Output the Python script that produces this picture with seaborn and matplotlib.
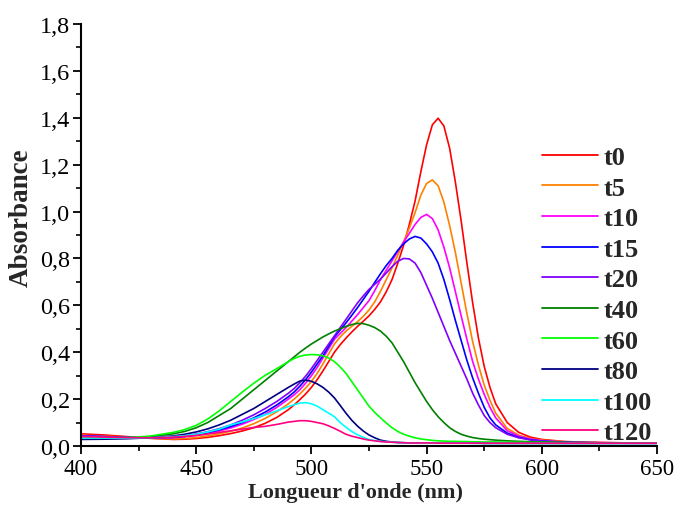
import matplotlib
matplotlib.use("Agg")
import matplotlib.pyplot as plt
from matplotlib.ticker import MultipleLocator, FuncFormatter
from matplotlib.lines import Line2D
import seaborn as sns
import pandas as pd

wavelength = [400, 410, 420, 430, 440, 445, 450, 455, 460, 465, 470, 475, 480, 485,
              490, 492.5, 495, 497.5, 500, 502.5, 505, 507.5, 510, 512.5, 515, 517.5,
              520, 522.5, 525, 527.5, 530, 532.5, 535, 537.5, 540, 542.5, 545, 547.5,
              550, 552.5, 555, 557.5, 560, 562.5, 565, 567.5, 570, 572.5, 575, 577.5, 580,
              585, 590, 595, 600, 610, 620, 630, 640, 650]

t0 = [.052, .047, .040, .033, .028, .029, .032, .037, .044, .053, .064, .078, .097, .122,
      .155, .175, .198, .222, .25, .283, .32, .36, .40, .432, .46, .486,
      .51, .532, .555, .583, .615, .658, .71, .78, .855, .945, 1.045, 1.17,
      1.285, 1.37, 1.398, 1.365, 1.27, 1.125, .96, .78, .61, .46, .34, .25, .18,
      .10, .058, .038, .028, .019, .016, .014, .013, .012]
t5 = [.046, .042, .038, .033, .030, .032, .036, .043, .052, .063, .077, .095, .118, .146,
      .180, .20, .222, .247, .275, .31, .35, .393, .435, .465, .49, .51,
      .53, .553, .58, .615, .66, .71, .76, .815, .87, .93, .995, 1.07,
      1.12, 1.135, 1.11, 1.04, .94, .825, .695, .565, .445, .345, .26, .195, .14,
      .075, .046, .032, .025, .018, .015, .014, .013, .012]
t10 = [.042, .039, .036, .034, .035, .039, .045, .053, .064, .077, .093, .113, .135, .165,
       .20, .218, .24, .268, .30, .335, .375, .415, .455, .48, .505, .532,
       .56, .59, .62, .663, .71, .75, .79, .83, .87, .907, .945, .975,
       .988, .97, .922, .848, .76, .658, .555, .455, .36, .285, .22, .165, .12,
       .065, .042, .030, .023, .017, .015, .014, .013, .012]
t15 = [.043, .040, .037, .036, .037, .041, .048, .057, .069, .083, .10, .12, .145, .175,
       .21, .23, .255, .283, .315, .35, .385, .425, .465, .495, .525, .557,
       .59, .625, .66, .698, .735, .77, .80, .835, .862, .883, .894, .887,
       .862, .828, .78, .71, .625, .535, .45, .365, .29, .225, .165, .12, .09,
       .055, .037, .027, .021, .016, .014, .013, .012, .012]
t20 = [.044, .040, .037, .036, .038, .043, .051, .061, .074, .09, .11, .133, .16, .19,
       .225, .245, .27, .298, .33, .365, .40, .435, .47, .505, .54, .575,
       .61, .64, .668, .69, .712, .738, .765, .788, .80, .798, .78, .74,
       .685, .63, .57, .51, .45, .395, .34, .285, .225, .175, .13, .10, .078,
       .05, .035, .026, .020, .016, .014, .013, .012, .012]
t40 = [.035, .035, .036, .040, .052, .062, .078, .10, .13, .16, .20, .24, .28, .32,
       .36, .38, .40, .418, .435, .45, .465, .478, .49, .50, .51, .518,
       .523, .522, .515, .505, .49, .468, .44, .40, .36, .315, .27, .23,
       .19, .155, .125, .10, .078, .062, .05, .042, .036, .032, .029, .027, .025,
       .022, .020, .018, .017, .015, .014, .013, .013, .013]
t60 = [.035, .035, .036, .042, .058, .07, .088, .115, .15, .19, .23, .268, .302, .33,
       .36, .373, .383, .388, .39, .389, .385, .375, .36, .337, .31, .275,
       .24, .205, .17, .143, .12, .098, .078, .062, .05, .042, .035, .03,
       .027, .024, .022, .021, .020, .020, .019, .019, .018, .018, .017, .017, .017,
       .016, .016, .015, .015, .014, .014, .013, .013, .013]
t80 = [.028, .029, .031, .035, .043, .050, .060, .073, .090, .11, .135, .16, .19, .22,
       .25, .264, .277, .281, .276, .265, .25, .23, .205, .173, .14, .11,
       .085, .064, .047, .035, .025, .020, .017, .015, .014, .013, .012, .012,
       .012, .012, .012, .012, .012, .012, .012, .012, .012, .012, .011, .011, .011,
       .011, .011, .011, .011, .011, .011, .011, .011, .011]
t100 = [.034, .034, .034, .035, .040, .044, .050, .060, .072, .09, .103, .117, .133, .15,
        .168, .176, .183, .185, .18, .17, .155, .14, .125, .10, .08, .062,
        .048, .037, .028, .023, .020, .018, .016, .015, .014, .013, .013, .012,
        .012, .012, .012, .012, .012, .012, .012, .012, .011, .011, .011, .011, .011,
        .011, .011, .011, .011, .011, .011, .011, .011, .011]
t120 = [.040, .038, .036, .035, .038, .041, .045, .051, .058, .065, .072, .079, .084, .092,
        .102, .105, .108, .108, .105, .10, .095, .086, .075, .063, .05, .042,
        .036, .030, .025, .022, .019, .017, .016, .015, .014, .013, .013, .013,
        .013, .013, .012, .012, .012, .012, .012, .012, .012, .012, .012, .012, .012,
        .012, .012, .012, .012, .012, .012, .012, .012, .012]

labels = ["t0", "t5", "t10", "t15", "t20", "t40", "t60", "t80", "t100", "t120"]
series = [t0, t5, t10, t15, t20, t40, t60, t80, t100, t120]
colors = ["#FF0000", "#FF8000", "#FF00FF", "#0000FF", "#8000FF",
          "#008000", "#00FF00", "#000080", "#00FFFF", "#FF0080"]

rows = []
for lab, vals in zip(labels, series):
    assert len(vals) == len(wavelength), (lab, len(vals))
    for w, v in zip(wavelength, vals):
        rows.append({"wl": w, "A": v, "t": lab})
df = pd.DataFrame(rows)

sns.set_style("ticks")
plt.rcParams["font.family"] = ["Liberation Serif", "DejaVu Serif"]

fig = plt.figure(figsize=(6.77, 5.06), dpi=100)
ax = fig.add_axes([81 / 677, 59 / 506, 576 / 677, 422 / 506])

sns.lineplot(data=df, x="wl", y="A", hue="t", hue_order=labels,
             palette=dict(zip(labels, colors)), estimator=None, sort=False,
             linewidth=1.2, legend=False, ax=ax)

ax.set_xlim(400, 650)
ax.set_ylim(0, 1.8)
ax.xaxis.set_major_locator(MultipleLocator(50))
ax.xaxis.set_minor_locator(MultipleLocator(25))
ax.yaxis.set_major_locator(MultipleLocator(0.2))
ax.yaxis.set_minor_locator(MultipleLocator(0.1))
ax.yaxis.set_major_formatter(FuncFormatter(lambda v, p: f"{v:.1f}".replace(".", ",")))
ax.xaxis.set_major_formatter(FuncFormatter(lambda v, p: f"{int(round(v))}"))

for s in ["top", "right"]:
    ax.spines[s].set_visible(False)
for s in ["left", "bottom"]:
    ax.spines[s].set_linewidth(1.5)
    ax.spines[s].set_color("black")

ax.tick_params(axis="x", which="major", direction="out", length=6, width=1.3,
               labelsize=16.5, colors="black", pad=3)
ax.tick_params(axis="y", which="major", direction="out", length=6, width=1.3,
               labelsize=17.5, colors="black", pad=2)
ax.tick_params(axis="both", which="minor", direction="out", length=3.5, width=1.2, colors="black")

ax.set_xlabel("Longueur d'onde (nm)", fontsize=16, fontweight="bold")
ax.set_ylabel("Absorbance", fontsize=19.5, fontweight="bold")
ax.xaxis.set_label_coords(0.477, -0.085)
ax.yaxis.set_label_coords(-0.082, 0.543)

handles = [Line2D([0], [0], color=c, lw=1.3) for c in colors]
leg = ax.legend(handles, labels, loc="center left", bbox_to_anchor=(0.80, 0.358),
                frameon=False, borderpad=0, borderaxespad=0, handlelength=2.12,
                handletextpad=0.23, labelspacing=0.27,
                prop={"family": ["Liberation Serif"], "weight": "bold", "size": 19})

fig.savefig("out.png", dpi=100)
